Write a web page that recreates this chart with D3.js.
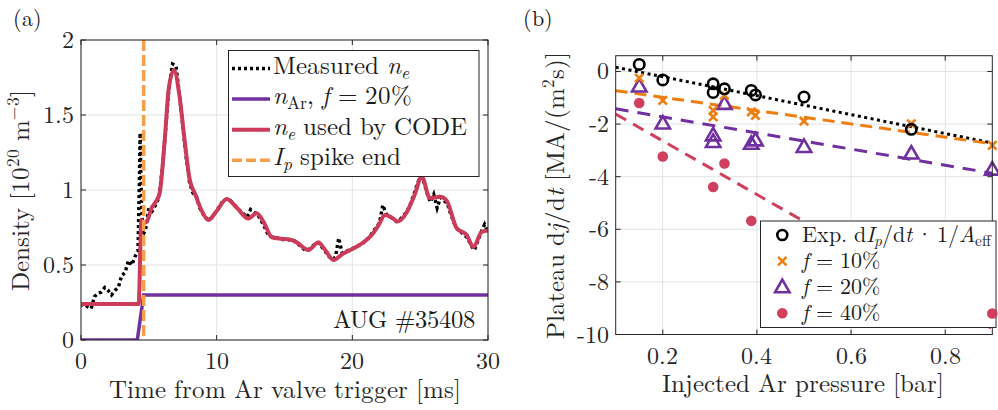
<!DOCTYPE html>
<html><head><meta charset="utf-8">
<script src="https://cdn.jsdelivr.net/npm/d3@7"></script>
<style>
html,body{margin:0;padding:0;background:#fff;}
@font-face{font-family:"LMR";font-style:normal;font-weight:400;
  src:local("LM Roman 10 Regular"),local("LMRoman10-Regular"),local("Latin Modern Roman");
  ascent-override:78%;descent-override:22%;line-gap-override:0%;}
@font-face{font-family:"LMR";font-style:italic;font-weight:400;
  src:local("LM Roman 10 Italic"),local("LMRoman10-Italic"),local("Latin Modern Roman Italic");
  ascent-override:78%;descent-override:22%;line-gap-override:0%;}
</style></head><body>
<svg id="chart" width="998" height="410"></svg>
<script>
// ---------------- Panel (a) data ----------------
const codeT = [0, 4.25, 4.45, 4.62, 4.85, 5.2, 5.5, 5.8, 6.17, 6.46, 6.85, 7.27, 7.64, 8.01, 8.38, 8.99, 9.38, 10.0, 10.74, 11.5, 12.33, 12.95, 13.5, 14.06, 14.8, 15.53, 16.0, 16.5, 16.76, 17.49, 18.0, 18.6, 19.3, 20.07, 20.8, 21.43, 21.9, 22.41, 22.85, 23.35, 24.0, 24.6, 25.11, 25.72, 26.46, 26.95, 27.69, 28.43, 28.92, 29.53, 30];
const codeN = [0.24, 0.24, 0.80, 0.78, 0.79, 0.88, 0.92, 0.98, 1.33, 1.67, 1.80, 1.62, 1.33, 1.07, 0.98, 0.845, 0.80, 0.86, 0.94, 0.88, 0.81, 0.845, 0.78, 0.685, 0.675, 0.667, 0.645, 0.61, 0.60, 0.65, 0.60, 0.533, 0.575, 0.61, 0.65, 0.70, 0.76, 0.833, 0.82, 0.79, 0.85, 0.97, 1.09, 0.945, 0.955, 0.93, 0.745, 0.70, 0.62, 0.72, 0.73];
const measT = [0, 0.25, 0.5, 0.75, 1.0, 1.25, 1.5, 1.75, 2.0, 2.25, 2.5, 2.75, 3.0, 3.25, 3.5, 3.75, 4.0, 4.2, 4.3, 4.36, 4.45, 4.55, 4.75, 5.0, 5.25, 5.5, 5.75, 6.0, 6.25, 6.5, 6.75, 7.0, 7.25, 7.5, 7.75, 8.0, 8.25, 8.5, 8.75, 9.0, 9.25, 9.5, 9.75, 10.0, 10.25, 10.5, 10.75, 11.0, 11.25, 11.5, 11.75, 12.0, 12.25, 12.5, 12.75, 13.0, 13.25, 13.5, 13.75, 14.0, 14.25, 14.5, 14.75, 15.0, 15.25, 15.5, 15.75, 16.0, 16.25, 16.5, 16.75, 17.0, 17.25, 17.5, 17.75, 18.0, 18.25, 18.5, 18.75, 19.0, 19.25, 19.5, 19.75, 20.0, 20.25, 20.5, 20.75, 21.0, 21.25, 21.5, 21.75, 22.0, 22.25, 22.5, 22.75, 23.0, 23.25, 23.5, 23.75, 24.0, 24.25, 24.5, 24.75, 25.0, 25.25, 25.5, 25.75, 26.0, 26.25, 26.5, 26.75, 27.0, 27.25, 27.5, 27.75, 28.0, 28.25, 28.5, 28.75, 29.0, 29.25, 29.5, 29.75, 30.0];
const measN = [0.23, 0.24, 0.22, 0.21, 0.29, 0.31, 0.32, 0.35, 0.33, 0.30, 0.33, 0.35, 0.43, 0.45, 0.53, 0.50, 0.56, 0.59, 1.05, 1.38, 0.95, 0.70, 0.73, 0.88, 0.86, 0.90, 0.95, 1.15, 1.42, 1.70, 1.84, 1.83, 1.64, 1.43, 1.22, 1.05, 0.98, 0.96, 0.88, 0.84, 0.81, 0.80, 0.83, 0.86, 0.90, 0.93, 0.94, 0.93, 0.91, 0.88, 0.86, 0.84, 0.82, 0.87, 0.85, 0.84, 0.80, 0.76, 0.71, 0.69, 0.68, 0.68, 0.67, 0.67, 0.67, 0.66, 0.66, 0.64, 0.62, 0.60, 0.60, 0.62, 0.64, 0.65, 0.62, 0.59, 0.56, 0.54, 0.55, 0.68, 0.58, 0.59, 0.60, 0.61, 0.62, 0.63, 0.64, 0.67, 0.68, 0.72, 0.75, 0.78, 0.90, 0.84, 0.82, 0.81, 0.79, 0.80, 0.83, 0.85, 0.90, 0.96, 1.03, 1.09, 1.06, 0.98, 0.92, 0.97, 0.88, 0.95, 0.93, 0.91, 0.84, 0.78, 0.74, 0.72, 0.70, 0.68, 0.63, 0.60, 0.66, 0.72, 0.77, 0.72];
const arT = [0, 4.15, 4.62, 30];
const arN = [0, 0, 0.30, 0.30];
const ipSpikeEnd = [4.62];
const leftXTicks = [0, 10, 20, 30];
const leftYTicks = [0, 0.5, 1, 1.5, 2];
const leftYTickLabels = ["0", "0.5", "1", "1.5", "2"];

// ---------------- Panel (b) data ----------------
const pressExp = [0.15, 0.20, 0.307, 0.307, 0.331, 0.388, 0.397, 0.50, 0.728];
const djExp    = [0.27, -0.32, -0.47, -0.80, -0.66, -0.72, -0.89, -0.97, -2.20];
const pressSim = [0.15, 0.20, 0.307, 0.307, 0.331, 0.388, 0.397, 0.50, 0.728, 0.90];
const djF10    = [-0.25, -1.10, -1.48, -1.73, -0.91, -1.54, -1.67, -1.89, -1.99, -2.81];
const djF20    = [-0.57, -1.98, -2.43, -2.68, -1.23, -2.75, -2.62, -2.87, -3.12, -3.73];
const pressF40 = [0.15, 0.20, 0.307, 0.331, 0.388, 0.90];
const djF40    = [-1.20, -3.23, -4.39, -3.50, -5.68, -9.20];
const fitP     = [0.1, 0.9];
const fitExp   = [0.16, -2.72];
const fitF10   = [-0.73, -2.75];
const fitF20   = [-1.42, -3.87];
const fitF40   = [-1.62, -9.78];
const rightXTicks = [0.2, 0.4, 0.6, 0.8];
const rightXTickLabels = ["0.2", "0.4", "0.6", "0.8"];
const rightYTicks = [-10, -8, -6, -4, -2, 0];
const rightYTickLabels = ["-10", "-8", "-6", "-4", "-2", "0"];

// ---------------- drawing ----------------
const FONT = '"LMR", "Latin Modern Roman", "Liberation Serif", serif';
const svg = d3.select("#chart");
const AX = "#262626", GRID = "#e3e3e3", TXT = "#1a1a1a";
const C_RED = "#cd3b5b", C_PUR = "#7030a0", C_ORL = "#f4a04a", C_OR = "#ee7d12", C_DOT = "#d13f5e";

function txt(g, x, y, fs) {
  return g.append("text").attr("x", x).attr("y", y).attr("font-size", fs)
    .style("font-family", FONT).attr("fill", TXT);
}
function rich(sel, parts, fs) {
  let shift = 0;
  parts.forEach(p => {
    const ts = sel.append("tspan").text(p.t);
    let target = 0, size = fs;
    if (p.s === "sub") { target = 0.2 * fs; size = 0.7 * fs; }
    if (p.s === "sup") { target = -0.42 * fs; size = 0.7 * fs; }
    ts.attr("font-size", size);
    if (target !== shift) ts.attr("dy", target - shift);
    shift = target;
    if (p.i) ts.style("font-style", "italic");
  });
  return sel;
}

function frame(g, x, y, xt, yt) {
  const [x0, x1] = x.range(), [y0, y1] = y.range();
  g.append("g").selectAll("line").data(xt).join("line")
    .attr("x1", d => x(d)).attr("x2", d => x(d)).attr("y1", y0).attr("y2", y1)
    .attr("stroke", GRID).attr("stroke-width", 1);
  g.append("g").selectAll("line").data(yt).join("line")
    .attr("y1", d => y(d)).attr("y2", d => y(d)).attr("x1", x0).attr("x2", x1)
    .attr("stroke", GRID).attr("stroke-width", 1);
}
function box(g, x, y, xt, yt, xl, yl, fs) {
  const [x0, x1] = x.range(), [y0, y1] = y.range();
  const tl = 5;
  const tk = g.append("g").attr("stroke", AX).attr("stroke-width", 1);
  xt.forEach(d => {
    tk.append("line").attr("x1", x(d)).attr("x2", x(d)).attr("y1", y0).attr("y2", y0 - tl);
    tk.append("line").attr("x1", x(d)).attr("x2", x(d)).attr("y1", y1).attr("y2", y1 + tl);
  });
  yt.forEach(d => {
    tk.append("line").attr("y1", y(d)).attr("y2", y(d)).attr("x1", x0).attr("x2", x0 + tl);
    tk.append("line").attr("y1", y(d)).attr("y2", y(d)).attr("x1", x1).attr("x2", x1 - tl);
  });
  g.append("rect").attr("x", x0).attr("y", y1).attr("width", x1 - x0).attr("height", y0 - y1)
    .attr("fill", "none").attr("stroke", AX).attr("stroke-width", 1);
  g.append("g").selectAll("text").data(xt).join("text")
    .attr("x", d => x(d)).attr("y", y0 + 29).attr("text-anchor", "middle").style("font-family", FONT)
    .attr("font-size", fs).attr("fill", AX).text((d, i) => xl[i]);
  g.append("g").selectAll("text").data(yt).join("text")
    .attr("x", x0 - 7).attr("y", d => y(d) + 8).attr("text-anchor", "end").style("font-family", FONT)
    .attr("font-size", fs).attr("fill", AX).text((d, i) => yl[i]);
}

// ---- Panel (a)
const xa = d3.scaleLinear().domain([0, 30]).range([81, 488]);
const ya = d3.scaleLinear().domain([0, 2]).range([340, 40]);
const ga = svg.append("g");
frame(ga, xa, ya, leftXTicks, leftYTicks);
ga.append("clipPath").attr("id", "clipA").append("rect")
  .attr("x", 81).attr("y", 40).attr("width", 407).attr("height", 300);
const pa = ga.append("g").attr("clip-path", "url(#clipA)");
const lineA = (T, N, curve) => d3.line().x((d, i) => xa(T[i])).y((d, i) => ya(N[i])).curve(curve)(T);
pa.append("path").attr("d", lineA(measT, measN, d3.curveLinear))
  .attr("fill", "none").attr("stroke", "#000").attr("stroke-width", 3.4).attr("stroke-dasharray", "3,3");
pa.append("path").attr("d", lineA(arT, arN, d3.curveLinear))
  .attr("fill", "none").attr("stroke", C_PUR).attr("stroke-width", 3.5);
pa.append("path").attr("d", lineA(codeT, codeN, d3.curveMonotoneX))
  .attr("fill", "none").attr("stroke", C_RED).attr("stroke-width", 4).attr("stroke-linejoin", "round");
pa.selectAll("line.ip").data(ipSpikeEnd).join("line").attr("class", "ip")
  .attr("x1", d => xa(d)).attr("x2", d => xa(d)).attr("y1", ya(2)).attr("y2", ya(0))
  .attr("stroke", C_ORL).attr("stroke-width", 3.5).attr("stroke-dasharray", "11,4");
box(ga, xa, ya, leftXTicks, leftYTicks, leftXTicks.map(String), leftYTickLabels, 24);

txt(ga, 475, 328, 24.5).attr("text-anchor", "end").text("AUG #35408");

// legend (a)
const la = ga.append("g");
la.append("rect").attr("x", 228.5).attr("y", 50.5).attr("width", 250.5).attr("height", 126)
  .attr("fill", "#fff").attr("stroke", AX).attr("stroke-width", 1);
const legA = [
  {parts: [{t: "Measured "}, {t: "n", i: 1}, {t: "e", i: 1, s: "sub"}], stroke: "#000", dash: "3,3", sw: 3.4},
  {parts: [{t: "n", i: 1}, {t: "Ar", s: "sub"}, {t: ", "}, {t: "f", i: 1}, {t: " = 20%"}], stroke: C_PUR, dash: null, sw: 3.5},
  {parts: [{t: "n", i: 1}, {t: "e", i: 1, s: "sub"}, {t: " used by CODE"}], stroke: C_RED, dash: null, sw: 4},
  {parts: [{t: "I", i: 1}, {t: "p", i: 1, s: "sub"}, {t: " spike end"}], stroke: C_ORL, dash: "10,4", sw: 3.5}
];
legA.forEach((e, i) => {
  const yb = 73.5 + i * 30.6;
  la.append("line").attr("x1", 232).attr("x2", 270).attr("y1", yb - 5).attr("y2", yb - 5)
    .attr("stroke", e.stroke).attr("stroke-width", e.sw).attr("stroke-dasharray", e.dash);
  rich(txt(la, 273, yb, 25), e.parts, 25);
});

// ---- Panel (b)
const xb = d3.scaleLinear().domain([0.1, 0.9]).range([615.7, 992.3]);
const yb = d3.scaleLinear().domain([-10, 0.6]).range([334.5, 55.7]);
const gb = svg.append("g");
frame(gb, xb, yb, rightXTicks, rightYTicks);
gb.append("clipPath").attr("id", "clipB").append("rect")
  .attr("x", 615.7).attr("y", 55.7).attr("width", 376.6).attr("height", 278.8);
const pb = gb.append("g").attr("clip-path", "url(#clipB)");
const lineB = (P, V) => d3.line().x((d, i) => xb(P[i])).y((d, i) => yb(V[i]))(P);
[[fitExp, "#000", "3,3.5"], [fitF10, C_OR, "12,7"], [fitF20, C_PUR, "13,9"], [fitF40, C_DOT, "12,8"]]
  .forEach(([v, c, dash]) => {
    pb.append("path").attr("d", lineB(fitP, v)).attr("fill", "none")
      .attr("stroke", c).attr("stroke-width", 3).attr("stroke-dasharray", dash);
  });
const mk = gb.append("g");
const triPath = "M0,-7.5L7.2,5L-7.2,5Z";
const xPath = "M-4.2,-4.2L4.2,4.2M-4.2,4.2L4.2,-4.2";
mk.selectAll("path.f20").data(pressSim).join("path").attr("class", "f20")
  .attr("transform", (d, i) => `translate(${xb(d)},${yb(djF20[i])})`).attr("d", triPath)
  .attr("fill", "none").attr("stroke", C_PUR).attr("stroke-width", 2.6);
mk.selectAll("path.f10").data(pressSim).join("path").attr("class", "f10")
  .attr("transform", (d, i) => `translate(${xb(d)},${yb(djF10[i])})`).attr("d", xPath)
  .attr("fill", "none").attr("stroke", C_OR).attr("stroke-width", 2.6);
mk.selectAll("circle.exp").data(pressExp).join("circle").attr("class", "exp")
  .attr("cx", d => xb(d)).attr("cy", (d, i) => yb(djExp[i])).attr("r", 5.2)
  .attr("fill", "none").attr("stroke", "#000").attr("stroke-width", 2.6);
mk.selectAll("circle.f40").data(pressF40.slice(0, -1)).join("circle").attr("class", "f40")
  .attr("cx", d => xb(d)).attr("cy", (d, i) => yb(djF40[i])).attr("r", 5.3).attr("fill", C_DOT);
box(gb, xb, yb, rightXTicks, rightYTicks, rightXTickLabels, rightYTickLabels, 24);

// legend (b)
const lb = gb.append("g");
lb.append("rect").attr("x", 760.5).attr("y", 221).attr("width", 235.5).attr("height", 106.5)
  .attr("fill", "#fff").attr("stroke", AX).attr("stroke-width", 1);
const legB = [
  {parts: [{t: "Exp. d"}, {t: "I", i: 1}, {t: "p", i: 1, s: "sub"}, {t: "/d"}, {t: "t", i: 1}, {t: "\u2009·\u20091/"}, {t: "A", i: 1}, {t: "eff", s: "sub"}], m: "exp"},
  {parts: [{t: "f", i: 1}, {t: " = 10%"}], m: "f10"},
  {parts: [{t: "f", i: 1}, {t: " = 20%"}], m: "f20"},
  {parts: [{t: "f", i: 1}, {t: " = 40%"}], m: "f40"}
];
legB.forEach((e, i) => {
  const cy = 235 + i * 26.1;
  const mx = 782.3;
  if (e.m === "exp") lb.append("circle").attr("cx", mx).attr("cy", cy).attr("r", 5).attr("fill", "none").attr("stroke", "#000").attr("stroke-width", 2.6);
  if (e.m === "f10") lb.append("path").attr("transform", `translate(${mx},${cy})`).attr("d", xPath).attr("fill", "none").attr("stroke", C_OR).attr("stroke-width", 2.6);
  if (e.m === "f20") lb.append("path").attr("transform", `translate(${mx},${cy})`).attr("d", triPath).attr("fill", "none").attr("stroke", C_PUR).attr("stroke-width", 2.6);
  if (e.m === "f40") lb.append("circle").attr("cx", mx).attr("cy", cy).attr("r", 5.3).attr("fill", C_DOT);
  rich(txt(lb, 802, cy + 7, 22), e.parts, 22);
});
// last f=40% point drawn over legend edge
gb.append("circle").datum(pressF40[pressF40.length - 1])
  .attr("cx", d => xb(d)).attr("cy", yb(djF40[djF40.length - 1])).attr("r", 5.3).attr("fill", C_DOT);

// ---- axis labels & panel tags
txt(svg, 284.5, 398, 25).attr("text-anchor", "middle").attr("fill", AX).text("Time from Ar valve trigger [ms]");
txt(svg, 802.5, 391.5, 25).attr("text-anchor", "middle").attr("fill", AX).text("Injected Ar pressure [bar]");
const yla = svg.append("text").attr("transform", "translate(29,190) rotate(-90)").attr("text-anchor", "middle")
  .attr("font-size", 25).style("font-family", FONT).attr("fill", AX);
rich(yla, [{t: "Density [10"}, {t: "20", s: "sup"}, {t: " m"}, {t: "−3", s: "sup"}, {t: "]"}], 25);
const ylb = svg.append("text").attr("transform", "translate(564,195) rotate(-90)").attr("text-anchor", "middle")
  .attr("font-size", 25).style("font-family", FONT).attr("fill", AX);
rich(ylb, [{t: "Plateau d"}, {t: "j", i: 1}, {t: "/d"}, {t: "t", i: 1}, {t: " [MA/(m"}, {t: "2", s: "sup"}, {t: "s)]"}], 25);
txt(svg, 13, 26, 22).text("(a)");
txt(svg, 523, 26, 22).text("(b)");
</script>
</body></html>
